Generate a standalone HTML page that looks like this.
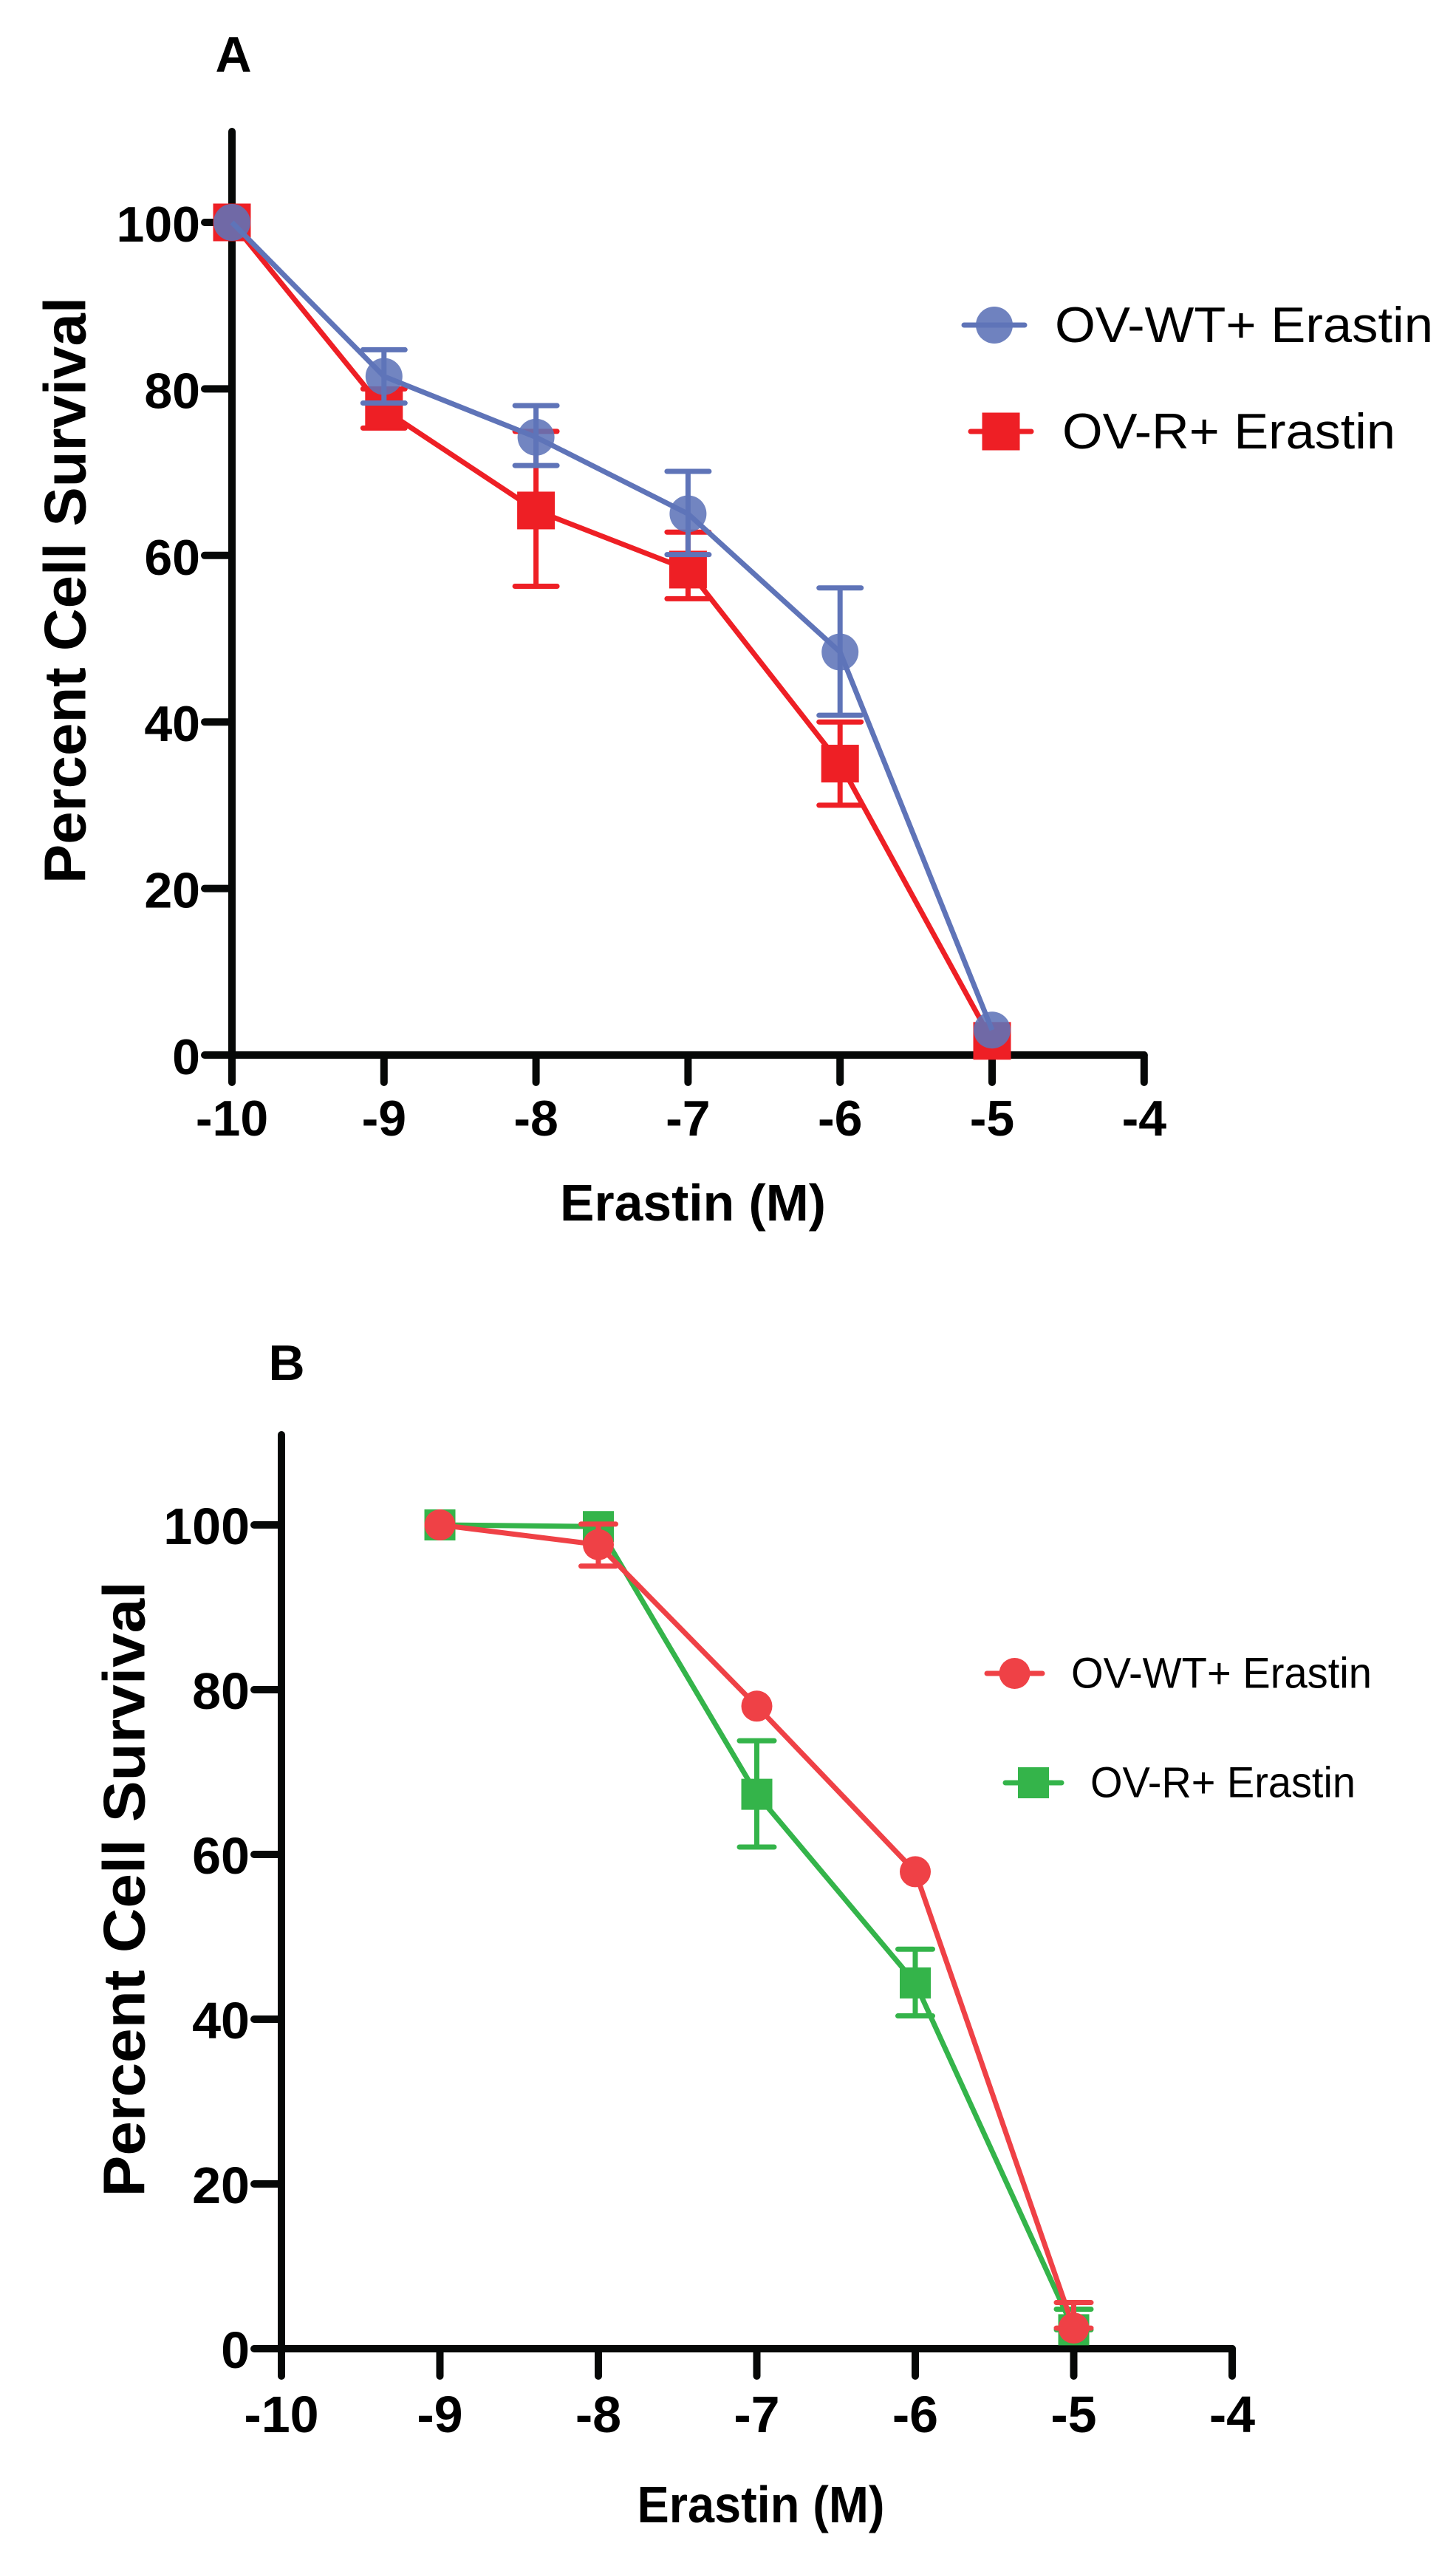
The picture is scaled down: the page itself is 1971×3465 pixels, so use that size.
<!DOCTYPE html>
<html><head><meta charset="utf-8"><style>
html,body{margin:0;padding:0;background:#fff}
svg{display:block}
text{font-family:"Liberation Sans",Arial,sans-serif}
</style></head><body>
<svg id="chart" width="1971" height="3465" viewBox="0 0 1971 3465" xmlns="http://www.w3.org/2000/svg"></svg>
<script>
// Panel A data
const xA = [-10, -9, -8, -7, -6, -5];
const wtA = [100, 81.5, 74.2, 65, 48.4, 3];
const wtAHi = [100, 84.7, 78, 70.1, 56.1, 3];
const wtALo = [100, 78.3, 70.8, 60.1, 40.8, 3];
const rA = [100, 77.5, 65.4, 58.3, 35, 1.7];
const rAHi = [100, 80, 74.9, 62.8, 40, 1.7];
const rALo = [100, 75.3, 56.3, 54.8, 30, 1.7];
// Panel B data
const xB = [-9, -8, -7, -6, -5];
const wtB = [100, 97.6, 78, 57.9, 2.5];
const wtBHi = [100, 100.1, 78, 57.9, 5.6];
const wtBLo = [100, 95, 78, 57.9, 2.5];
const rB = [100, 99.8, 67.3, 44.4, 2.3];
const rBHi = [100, 99.8, 73.8, 48.5, 4.8];
const rBLo = [100, 99.8, 60.9, 40.4, 2.3];
const xTicks = [-10, -9, -8, -7, -6, -5, -4];
const yTicks = [0, 20, 40, 60, 80, 100];

const NS = "http://www.w3.org/2000/svg";
const svg = document.getElementById('chart');
function mk(tag, attrs, parent, txt) {
  const e = document.createElementNS(NS, tag);
  for (const k in attrs) e.setAttribute(k, attrs[k]);
  if (txt !== undefined) e.textContent = txt;
  (parent || svg).appendChild(e);
  return e;
}

function panel(cfg) {
  const g = mk('g', {});
  
  
  const X = v => cfg.x0 + (v + 10) * cfg.ux;
  const Y = v => cfg.y0 - v * cfg.uy;
  // panel letter
  const lt = mk('text', {x: cfg.letterX, y: cfg.letterY, 'font-size': 68, 'font-weight': 'bold', 'text-anchor': 'middle', 'dominant-baseline': 'central'}, g, cfg.letter);
  
  
  // axes
  const ya = mk('line', {x1: cfg.x0, y1: cfg.yTop, x2: cfg.x0, y2: cfg.y0, stroke: '#060807', 'stroke-width': 10, 'stroke-linecap': 'round'}, g);
  
  
  const xa = mk('line', {x1: cfg.x0, y1: cfg.y0, x2: X(-4), y2: cfg.y0, stroke: '#060807', 'stroke-width': 10, 'stroke-linecap': 'round'}, g);
  
  
  xTicks.forEach(t => {
    const tk = mk('line', {x1: X(t), y1: cfg.y0, x2: X(t), y2: cfg.y0 + 37, stroke: '#060807', 'stroke-width': 10, 'stroke-linecap': 'round'}, g);
    
    
    const tl = mk('text', {x: X(t), y: cfg.y0 + cfg.xLabOff, 'font-size': cfg.tickFs, 'font-weight': 'bold', 'text-anchor': 'middle'}, g, String(t));
    
    
  });
  yTicks.forEach(t => {
    const tk = mk('line', {x1: cfg.x0 - 37, y1: Y(t), x2: cfg.x0, y2: Y(t), stroke: '#060807', 'stroke-width': 10, 'stroke-linecap': 'round'}, g);
    
    
    const tl = mk('text', {x: cfg.x0 - 43, y: Y(t) + 26, 'font-size': cfg.tickFs, 'font-weight': 'bold', 'text-anchor': 'end'}, g, String(t));
    
    
  });
  // titles
  const yt = mk('text', {x: 0, y: 0, 'font-size': 80, 'font-weight': 'bold', 'text-anchor': 'middle', 'dominant-baseline': 'central', transform: `translate(${cfg.ytX},${cfg.ytY}) rotate(-90)`, textLength: cfg.ytLen, lengthAdjust: 'spacingAndGlyphs'}, g, 'Percent Cell Survival');
  
  
  const xt = mk('text', {x: cfg.xtX, y: cfg.xtY, 'font-size': 70, 'font-weight': 'bold', 'text-anchor': 'middle', 'dominant-baseline': 'central', textLength: cfg.xtLen, lengthAdjust: 'spacingAndGlyphs'}, g, 'Erastin (M)');
  
  
  // series
  cfg.series.forEach(s => {
    const sg = mk('g', {}, g);
    
    
    const pts = s.xs.map((x, i) => X(x) + ',' + Y(s.ys[i])).join(' ');
    const pl = mk('polyline', {points: pts, fill: 'none', stroke: s.color, 'stroke-width': 7, 'stroke-linejoin': 'round'}, sg);
    
    
    s.xs.forEach((x, i) => {
      if (s.hi[i] !== s.lo[i] || s.hi[i] !== s.ys[i]) {
        const eb = mk('path', {d: `M${X(x)},${Y(s.hi[i])}V${Y(s.lo[i])}M${X(x) - cfg.cap / 2},${Y(s.hi[i])}h${cfg.cap}M${X(x) - cfg.cap / 2},${Y(s.lo[i])}h${cfg.cap}`, stroke: s.color, 'stroke-width': 7, 'stroke-linecap': 'round', fill: 'none'}, sg);
        
        
      }
    });
    s.xs.forEach((x, i) => {
      let m;
      if (s.shape === 'circle') m = mk('circle', {cx: X(x), cy: Y(s.ys[i]), r: cfg.r, fill: s.color, 'fill-opacity': s.op || 1}, sg);
      else m = mk('rect', {x: X(x) - cfg.sq / 2, y: Y(s.ys[i]) - cfg.sq / 2, width: cfg.sq, height: cfg.sq, fill: s.color}, sg);
      
      
    });
  });
  // legend
  cfg.legend.forEach(l => {
    const lg = mk('g', {}, g);
    
    
    mk('line', {x1: l.lx1, y1: l.y, x2: l.lx2, y2: l.y, stroke: l.color, 'stroke-width': 7, 'stroke-linecap': 'round'}, lg);
    const mx = (l.lx1 + l.lx2) / 2;
    if (l.shape === 'circle') mk('circle', {cx: mx, cy: l.y, r: cfg.r, fill: l.color, 'fill-opacity': l.op || 1}, lg);
    else mk('rect', {x: mx - cfg.sq / 2, y: l.y - cfg.sq / 2, width: cfg.sq, height: cfg.sq, fill: l.color}, lg);
    mk('text', {x: l.tx, y: l.y, 'font-size': l.fs, 'dominant-baseline': 'central', textLength: l.tl, lengthAdjust: 'spacingAndGlyphs'}, lg, l.text);
  });
}

panel({
  name: 'panel-a', letter: 'A', letterX: 316, letterY: 74,
  x0: 314, y0: 1428, ux: 205.8, uy: 11.27, yTop: 178, xLabOff: 109, tickFs: 68,
  ytX: 88, ytY: 799, ytLen: 794, xtX: 938, xtY: 1628, xtLen: 360,
  cap: 57, r: 25, sq: 51,
  series: [
    {name: 'series-ov-r', xs: xA, ys: rA, hi: rAHi, lo: rALo, color: '#ee1f25', shape: 'square'},
    {name: 'series-ov-wt', xs: xA, ys: wtA, hi: wtAHi, lo: wtALo, color: '#5f74b8', shape: 'circle', op: 0.88}
  ],
  legend: [
    {lx1: 1305, lx2: 1387, y: 440, color: '#5f74b8', shape: 'circle', op: 0.9, tx: 1428, fs: 68, tl: 512, text: 'OV-WT+ Erastin'},
    {lx1: 1314, lx2: 1396, y: 584, color: '#ee1f25', shape: 'square', tx: 1438, fs: 68, tl: 451, text: 'OV-R+ Erastin'}
  ]
});

panel({
  name: 'panel-b', letter: 'B', letterX: 388, letterY: 1845,
  x0: 381, y0: 3179, ux: 214.5, uy: 11.15, yTop: 1942, xLabOff: 113, tickFs: 70,
  ytX: 168, ytY: 2557, ytLen: 833, xtX: 1030, xtY: 3390, xtLen: 335,
  cap: 47, r: 21, sq: 42,
  series: [
    {name: 'series-ov-r', xs: xB, ys: rB, hi: rBHi, lo: rBLo, color: '#34b44a', shape: 'square'},
    {name: 'series-ov-wt', xs: xB, ys: wtB, hi: wtBHi, lo: wtBLo, color: '#ef4146', shape: 'circle'}
  ],
  legend: [
    {lx1: 1336, lx2: 1411, y: 2265, color: '#ef4146', shape: 'circle', tx: 1450, fs: 58, tl: 407, text: 'OV-WT+ Erastin'},
    {lx1: 1361, lx2: 1437, y: 2413, color: '#34b44a', shape: 'square', tx: 1476, fs: 58, tl: 359, text: 'OV-R+ Erastin'}
  ]
});
</script>
</body></html>
